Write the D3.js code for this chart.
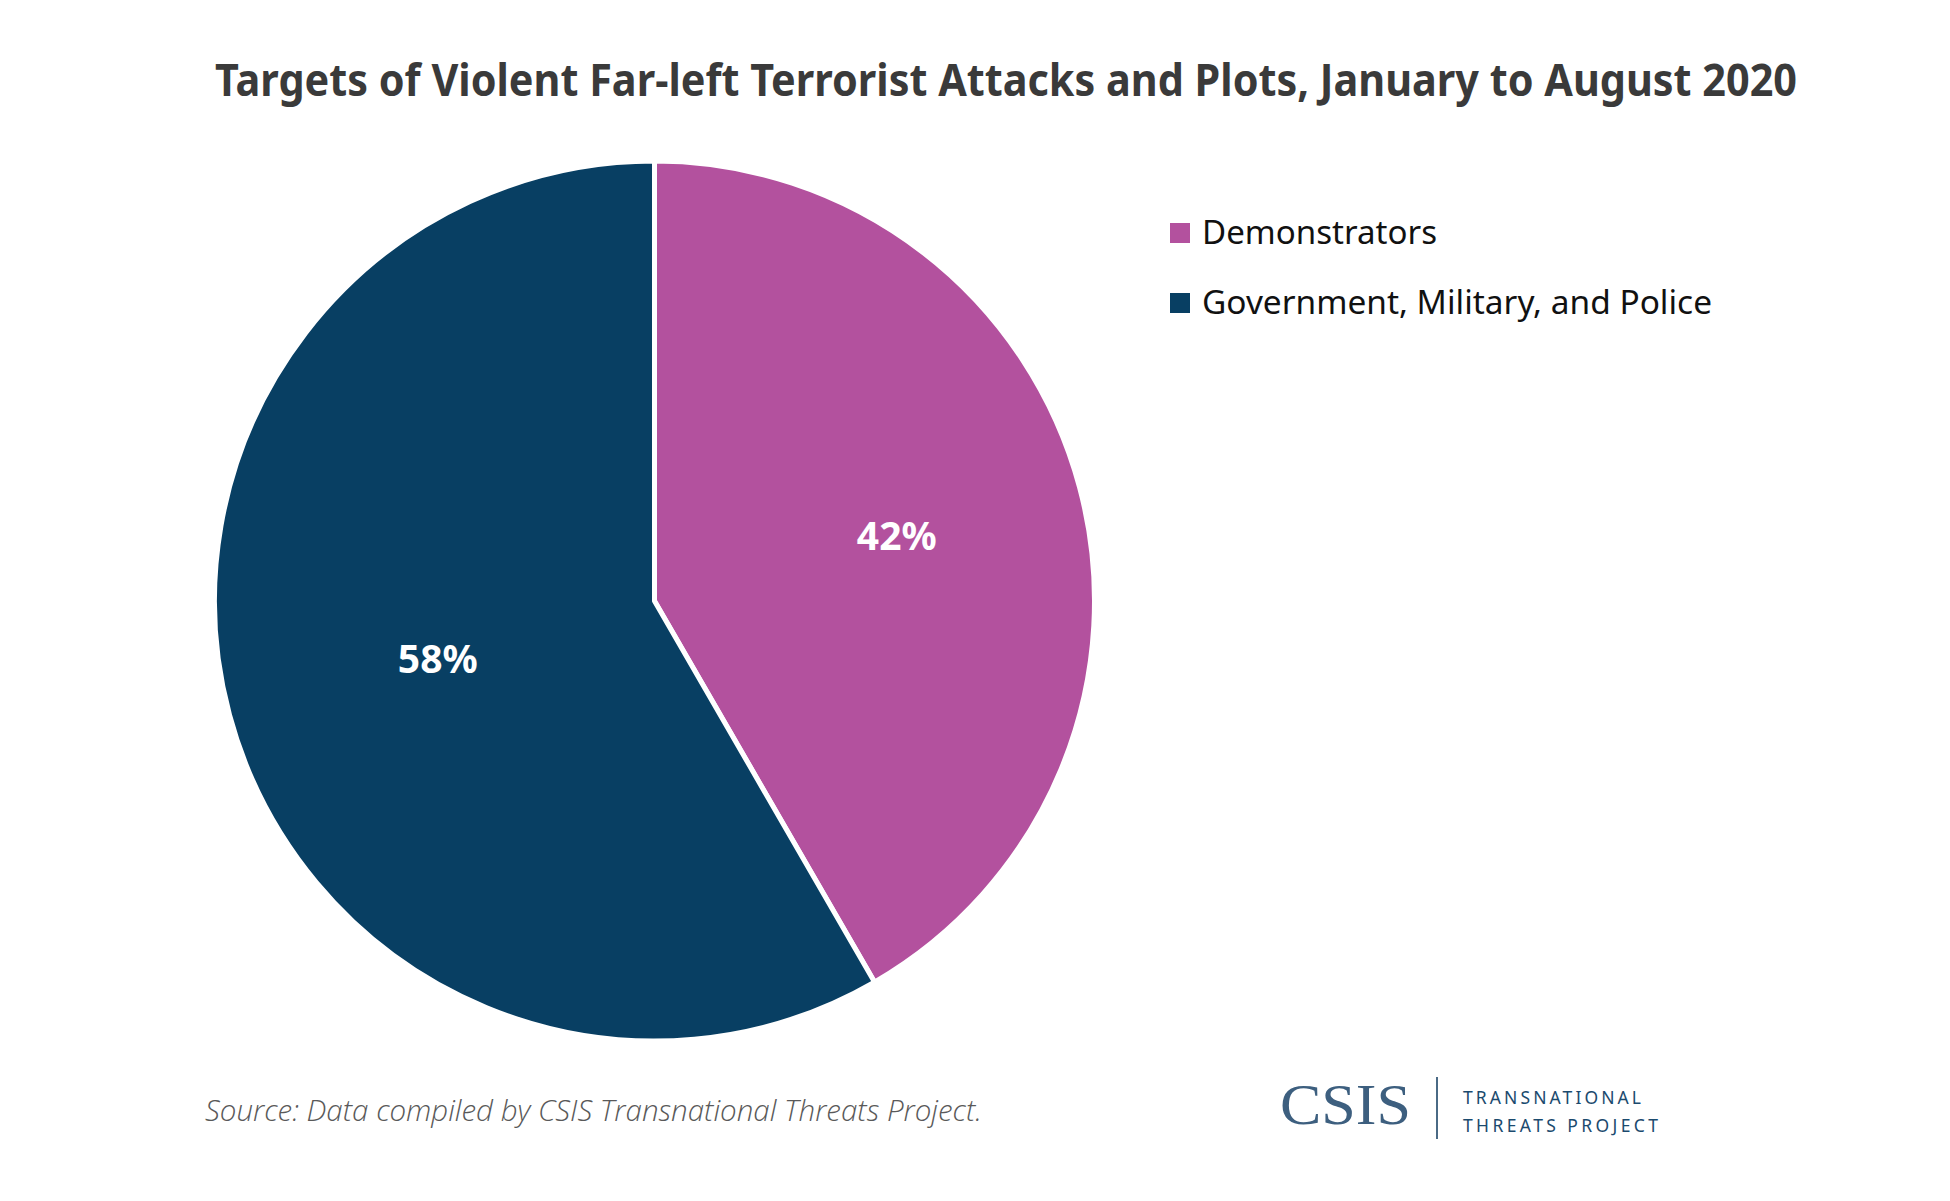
<!DOCTYPE html>
<html>
<head>
<meta charset="utf-8">
<script src="https://cdn.jsdelivr.net/npm/d3@7"></script>
<style>
  html, body { margin: 0; padding: 0; background: #ffffff; }
  svg { display: block; }
</style>
</head>
<body>
<svg id="chart" width="1950" height="1201"></svg>
<script>
// ---- data ----
const categories = ["Demonstrators", "Government, Military, and Police"];
const values = [5, 7];   // counts read as shares: 5/12 ≈ 42%, 7/12 ≈ 58%
const colors = ["#b3519e", "#083f63"];
const titleText = "Targets of Violent Far-left Terrorist Attacks and Plots, January to August 2020";
const sourceText = "Source: Data compiled by CSIS Transnational Threats Project.";

// ---- layout ----
const W = 1950, H = 1201;
const cx = 654.5, cy = 601, R = 440;
const labelRadiusFrac = [0.57, 0.51];

const svg = d3.select("#chart");
svg.append("rect").attr("width", W).attr("height", H).attr("fill", "#fff");

// title
svg.append("text")
  .attr("x", 1006).attr("y", 96)
  .attr("text-anchor", "middle")
  .attr("font-family", "'Noto Sans', 'Open Sans', sans-serif")
  .attr("font-weight", 700)
  .attr("font-size", 44)
  .attr("fill", "#3a3a3a")
  .attr("textLength", 1582)
  .attr("lengthAdjust", "spacingAndGlyphs")
  .text(titleText);

// pie
const total = d3.sum(values);
const pct = d3.format(".0%");
const pie = d3.pie().sort(null).value(d => d)
  .startAngle(0).endAngle(2 * Math.PI);
const arcs = pie(values);
const arc = d3.arc().innerRadius(0).outerRadius(R);

const g = svg.append("g").attr("transform", `translate(${cx},${cy})`);
g.selectAll("path.slice")
  .data(arcs)
  .join("path")
  .attr("class", "slice")
  .attr("d", arc)
  .attr("fill", (d, i) => colors[i])
  .attr("stroke", "#ffffff")
  .attr("stroke-width", 5)
  .attr("stroke-linejoin", "round");

g.selectAll("text.lbl")
  .data(arcs)
  .join("text")
  .attr("class", "lbl")
  .attr("transform", (d, i) => {
    const r = R * labelRadiusFrac[i];
    const la = d3.arc().innerRadius(r).outerRadius(r);
    const [x, y] = la.centroid(d);
    return `translate(${x},${y})`;
  })
  .attr("text-anchor", "middle")
  .attr("dy", "0.35em")
  .attr("font-family", "'Noto Sans', 'Open Sans', sans-serif")
  .attr("font-weight", 700)
  .attr("font-size", 39)
  .attr("fill", "#ffffff")
  .text(d => pct(d.value / total));

// legend
const legendY = d3.scalePoint().domain(categories).range([233, 303]);
const lg = svg.append("g");
const items = lg.selectAll("g.item")
  .data(categories)
  .join("g")
  .attr("class", "item")
  .attr("transform", d => `translate(1170,${legendY(d)})`);
items.append("rect")
  .attr("x", 0).attr("y", -10)
  .attr("width", 20).attr("height", 20)
  .attr("fill", (d, i) => colors[i]);
items.append("text")
  .attr("x", 32).attr("y", 11)
  .attr("font-family", "'Noto Sans', 'Open Sans', sans-serif")
  .attr("font-size", 33)
  .attr("fill", "#111")
  .attr("textLength", (d, i) => i === 0 ? 235 : 510)
  .attr("lengthAdjust", "spacingAndGlyphs")
  .text(d => d);

// source
svg.append("text")
  .attr("x", 205).attr("y", 1121)
  .attr("font-family", "'Open Sans', 'Noto Sans', sans-serif")
  .attr("font-style", "italic")
  .attr("font-weight", 300)
  .attr("font-size", 29)
  .attr("fill", "#595959")
  .attr("textLength", 777)
  .attr("lengthAdjust", "spacingAndGlyphs")
  .text(sourceText);

// logo
svg.append("text")
  .attr("x", 1280).attr("y", 1124)
  .attr("font-family", "'Liberation Serif', 'DejaVu Serif', serif")
  .attr("font-size", 57)
  .attr("fill", "#3d5f7f")
  .attr("textLength", 131)
  .attr("lengthAdjust", "spacingAndGlyphs")
  .text("CSIS");
svg.append("line")
  .attr("x1", 1437).attr("x2", 1437)
  .attr("y1", 1077).attr("y2", 1139)
  .attr("stroke", "#4a6a85").attr("stroke-width", 2);
svg.append("text")
  .attr("x", 1463).attr("y", 1104)
  .attr("font-family", "'Noto Sans', 'Open Sans', sans-serif")
  .attr("font-size", 17.5)
  .attr("fill", "#1b4a6e")
  .attr("textLength", 178)
  .attr("lengthAdjust", "spacing")
  .text("TRANSNATIONAL");
svg.append("text")
  .attr("x", 1463).attr("y", 1132)
  .attr("font-family", "'Noto Sans', 'Open Sans', sans-serif")
  .attr("font-size", 17.5)
  .attr("fill", "#1b4a6e")
  .attr("textLength", 195)
  .attr("lengthAdjust", "spacing")
  .text("THREATS PROJECT");
</script>
</body>
</html>
